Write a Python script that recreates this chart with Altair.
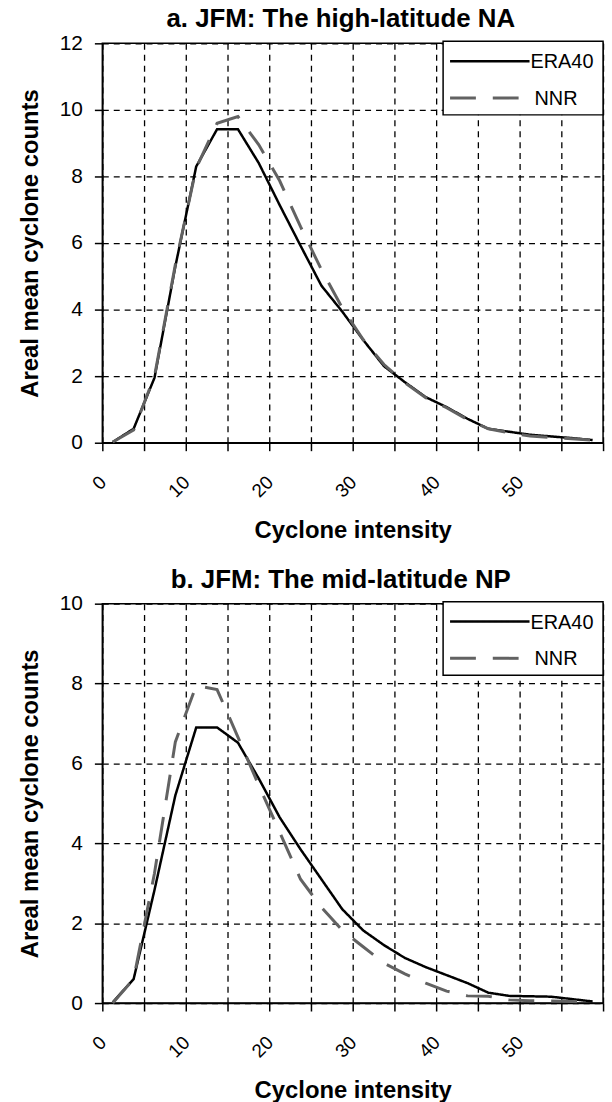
import altair as alt
import pandas as pd

FONT = "Liberation Sans"

# Cyclone intensity (category centres)
intensity = [1.25, 3.75, 6.25, 8.75, 11.25, 13.75, 16.25, 18.75, 21.25, 23.75,
             26.25, 28.75, 31.25, 33.75, 36.25, 38.75, 41.25, 43.75, 46.25,
             48.75, 51.25, 53.75, 56.25, 58.75]

# Panel a: JFM high-latitude NA
a_era40 = [0.02, 0.42, 1.95, 5.3, 8.3, 9.42, 9.42, 8.4, 7.14, 5.92, 4.72, 3.94,
           3.09, 2.3, 1.82, 1.37, 1.07, 0.72, 0.42, 0.33, 0.24, 0.19, 0.14, 0.08]
a_nnr = [0.02, 0.38, 2.0, 5.35, 8.25, 9.6, 9.8, 8.95, 7.87, 6.49, 5.2, 4.05,
         3.1, 2.35, 1.8, 1.35, 1.05, 0.7, 0.42, 0.3, 0.2, 0.16, 0.12, 0.08]

# Panel b: JFM mid-latitude NP
b_era40 = [0.02, 0.6, 2.83, 5.2, 6.9, 6.9, 6.52, 5.62, 4.65, 3.85, 3.1, 2.35,
           1.82, 1.45, 1.13, 0.9, 0.7, 0.5, 0.26, 0.18, 0.17, 0.16, 0.1, 0.04]
b_nnr = [0.0, 0.6, 3.25, 6.54, 7.95, 7.85, 6.66, 5.45, 4.28, 3.1, 2.4, 1.82,
         1.41, 1.0, 0.73, 0.5, 0.3, 0.18, 0.17, 0.08, 0.06, 0.05, 0.04, 0.02]

series_names = ["ERA40", "NNR"]
series_colors = ["#000000", "#626262"]
series_dash = [[1, 0], [26, 17]]
series_width = [2.5, 3]
x_ticks = [0, 5, 10, 15, 20, 25, 30, 35, 40, 45, 50, 55, 60]


def make_df(era, nnr):
    rows = []
    for s, vals in zip(series_names, [era, nnr]):
        for x, v in zip(intensity, vals):
            rows.append({"intensity": x, "count": v, "series": s})
    return pd.DataFrame(rows)


def legend_layers():
    """Excel-style boxed legend in the upper right corner of the panel."""
    key = pd.DataFrame({"series": series_names})
    box = alt.Chart(key).transform_filter(alt.datum.series == series_names[0]).mark_rect(
        fill="white", stroke="black", strokeWidth=1.5
    ).encode(x=alt.value(343), x2=alt.value(504), y=alt.value(-2), y2=alt.value(72))
    layers = [box]
    rows_y = [18, 55]
    sym_end = [430, 422]
    lab_x = [431, 435]
    for i, s in enumerate(series_names):
        base = alt.Chart(key).transform_filter(alt.datum.series == s)
        layers.append(base.mark_rule(
            color=series_colors[i], strokeDash=series_dash[i], strokeWidth=series_width[i]
        ).encode(x=alt.value(350), x2=alt.value(sym_end[i]), y=alt.value(rows_y[i])))
        layers.append(base.mark_text(
            align="left", baseline="middle", fontSize=20, font=FONT, color="black"
        ).encode(x=alt.value(lab_x[i]), y=alt.value(rows_y[i] + 1), text="series:N"))
    return layers


def panel(title, era, nnr, ymax):
    df = make_df(era, nnr)
    lines = alt.Chart(df).mark_line().encode(
        x=alt.X("intensity:Q",
                scale=alt.Scale(domain=[0, 60], nice=False, zero=False),
                axis=alt.Axis(values=x_ticks,
                              labelExpr="(datum.value % 10 == 0 && datum.value < 60) ? datum.label : ''",
                              labelAngle=315, labelFontSize=19, labelFont=FONT,
                              labelOffset=-6,
                              title="Cyclone intensity", titleFontSize=24,
                              titleFont=FONT, titleFontWeight="bold",
                              titlePadding=18, labelPadding=22)),
        y=alt.Y("count:Q",
                scale=alt.Scale(domain=[0, ymax], nice=False),
                axis=alt.Axis(values=list(range(0, ymax + 1, 2)),
                              labelFontSize=21, labelFont=FONT, labelPadding=12,
                              title="Areal mean cyclone counts", titleFontSize=24,
                              titleFont=FONT, titleFontWeight="bold",
                              titlePadding=17)),
        color=alt.Color("series:N",
                        scale=alt.Scale(domain=series_names, range=series_colors),
                        legend=None),
        strokeDash=alt.StrokeDash("series:N",
                                  scale=alt.Scale(domain=series_names, range=series_dash),
                                  legend=None),
        strokeWidth=alt.StrokeWidth("series:N",
                                    scale=alt.Scale(domain=series_names, range=series_width),
                                    legend=None),
    )
    return alt.layer(lines, *legend_layers()).properties(
        width=504, height=402,
        title=alt.TitleParams(title, fontSize=26, font=FONT, fontWeight="bold",
                              anchor="middle", dx=-12, offset=0, color="black"),
    )


top = panel("a. JFM: The high-latitude NA", a_era40, a_nnr, 12)
bottom = panel("b.  JFM: The mid-latitude NP", b_era40, b_nnr, 10)

chart = alt.vconcat(top, bottom, spacing=22).properties(
    padding={"left": 17, "top": 2, "right": 0, "bottom": 0}
).configure(
    background="white",
).configure_view(
    stroke="black", strokeWidth=1.5
).configure_axis(
    domainColor="black", domainWidth=1.5, tickColor="black", tickWidth=1.5,
    tickSize=8, labelColor="black", titleColor="black",
    gridColor="black", gridDash=[6, 5], gridWidth=1.3, gridOpacity=1,
)

chart.save("out.html", embed_options={"renderer": "svg", "actions": False})
